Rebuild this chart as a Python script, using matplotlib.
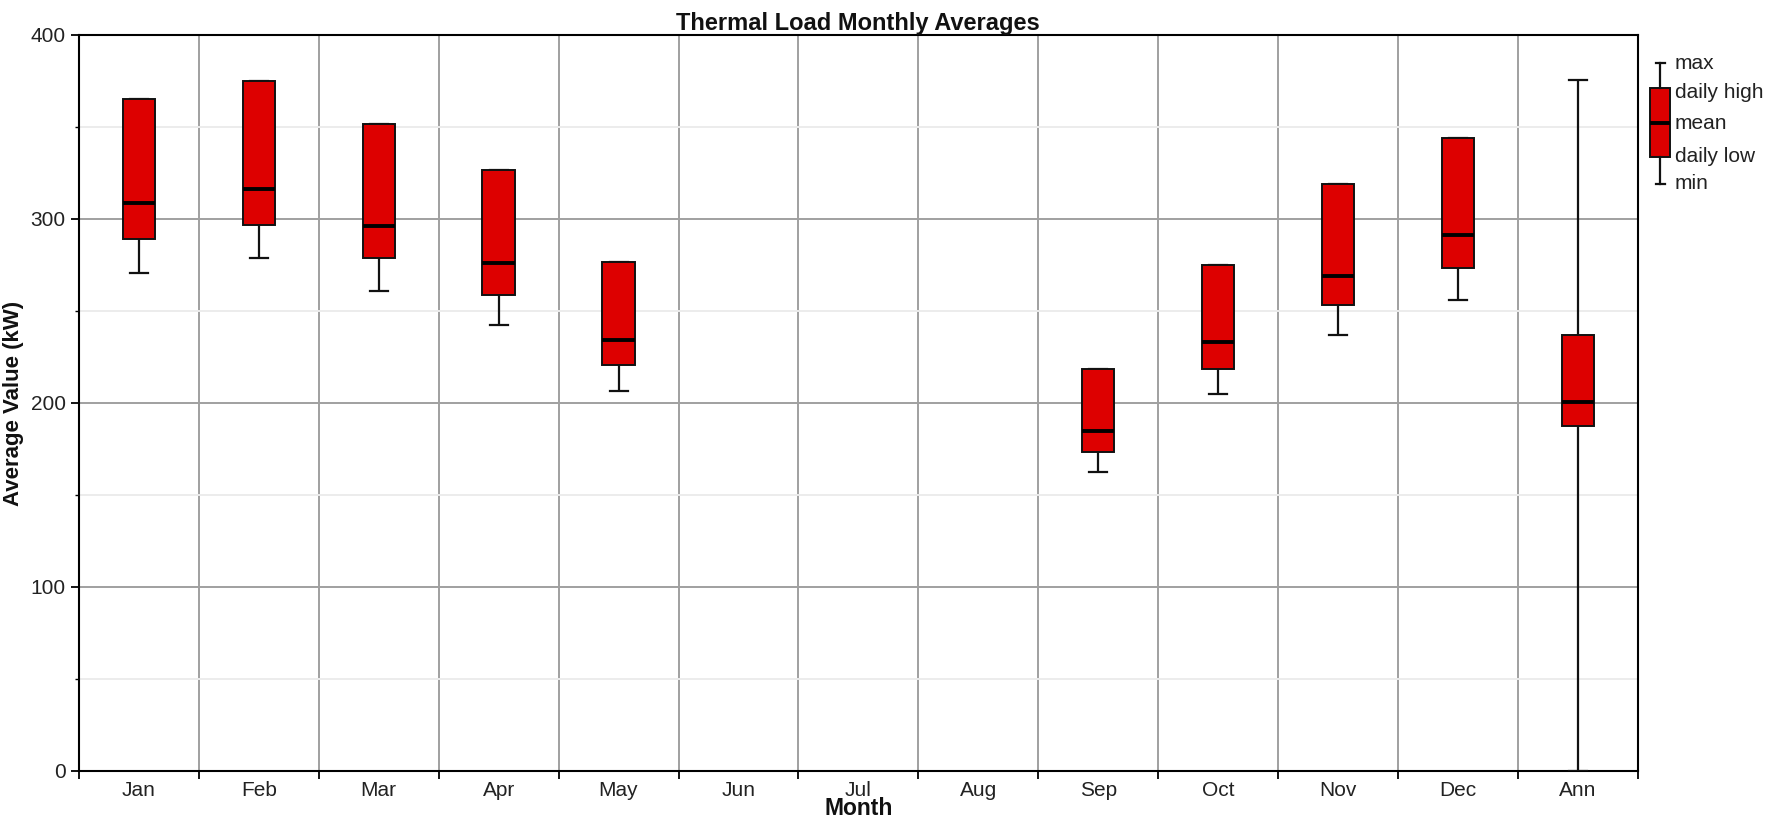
import numpy as np
import matplotlib
matplotlib.use("Agg")
import matplotlib.pyplot as plt
from matplotlib.patches import Rectangle
from matplotlib.ticker import MultipleLocator, FixedLocator

plt.rcParams['font.family'] = ['Liberation Sans', 'DejaVu Sans']

months = ['Jan', 'Feb', 'Mar', 'Apr', 'May', 'Jun', 'Jul', 'Aug', 'Sep', 'Oct', 'Nov', 'Dec', 'Ann']
nan = np.nan
max_vals = [365.1, 375.0, 351.8, 326.6, 276.9, nan, nan, nan, 218.3, 275.2, 319.0, 344.2, 375.3]
daily_high = [365.1, 375.0, 351.8, 326.6, 276.9, nan, nan, nan, 218.3, 275.2, 319.0, 344.2, 237.1]
mean_vals = [308.7, 316.1, 296.4, 275.9, 234.2, nan, nan, nan, 184.8, 233.2, 269.2, 291.1, 200.3]
daily_low = [289.3, 296.9, 278.6, 258.5, 220.7, nan, nan, nan, 173.5, 218.3, 253.3, 273.2, 187.4]
min_vals = [270.8, 278.6, 261.0, 242.2, 206.5, nan, nan, nan, 162.5, 205.1, 237.0, 255.9, 0.0]

RED = '#dd0000'
W = 17.83
H = 8.23
fig = plt.figure(figsize=(W, H), dpi=100)
ax = fig.add_axes([79 / 1783, 1 - 771 / 823, (1637.7 - 79) / 1783, (771 - 35) / 823])

n = len(months)
x = np.arange(n)
bw = 0.27
cw = 0.15
for i in range(n):
    if np.isnan(mean_vals[i]):
        continue
    lo, hi, mn, mx, me = daily_low[i], daily_high[i], min_vals[i], max_vals[i], mean_vals[i]
    ax.plot([x[i], x[i]], [mn, lo], color='#111111', lw=1.6, zorder=3, solid_capstyle='butt')
    ax.plot([x[i], x[i]], [hi, mx], color='#111111', lw=1.6, zorder=3, solid_capstyle='butt')
    ax.plot([x[i] - cw / 2, x[i] + cw / 2], [mn, mn], color='#111111', lw=1.6, zorder=3)
    ax.plot([x[i] - cw / 2, x[i] + cw / 2], [mx, mx], color='#111111', lw=1.6, zorder=3)
    ax.add_patch(Rectangle((x[i] - bw / 2, lo), bw, hi - lo, facecolor=RED,
                           edgecolor='#111111', lw=1.4, zorder=4))
    ax.plot([x[i] - bw / 2, x[i] + bw / 2], [me, me], color='black', lw=2.8, zorder=5,
            solid_capstyle='butt')

ax.set_xlim(-0.5, n - 0.5)
ax.set_ylim(0, 400)
ax.set_xticks(x)
ax.set_xticklabels(months, fontsize=15, color='#222222')
ax.xaxis.set_minor_locator(FixedLocator(np.arange(-0.5, n, 1.0)))
ax.tick_params(axis='x', which='major', length=0, pad=7)
ax.tick_params(axis='x', which='minor', length=6, width=1.3, direction='out', color='black')
ax.yaxis.set_major_locator(MultipleLocator(100))
ax.yaxis.set_minor_locator(MultipleLocator(50))
ax.tick_params(axis='y', which='major', length=6, width=1.3, labelsize=15, labelcolor='#222222')
ax.tick_params(axis='y', which='minor', length=3, width=1.0)

ax.grid(True, axis='y', which='major', color='#a0a0a0', lw=1.4, zorder=1)
ax.grid(True, axis='y', which='minor', color='#ececec', lw=1.4, zorder=0)
ax.grid(True, axis='x', which='minor', color='#a0a0a0', lw=1.4, zorder=1)
ax.set_axisbelow(True)
for s in ax.spines.values():
    s.set_color('black')
    s.set_linewidth(1.5)

ax.set_title('Thermal Load Monthly Averages', fontsize=17, fontweight='bold', pad=3, color='#111111')
ax.set_xlabel('Month', fontsize=16.5, fontweight='bold', labelpad=-2, color='#111111')
ax.set_ylabel('Average Value (kW)', fontsize=16, fontweight='bold', labelpad=5, color='#111111')

# legend drawn in pixel coordinates
lg = fig.add_axes([0, 0, 1, 1], facecolor='none')
lg.set_xlim(0, 1783)
lg.set_ylim(823, 0)
lg.axis('off')
cx = 1660.5
lg.plot([cx, cx], [63, 88], color='#111111', lw=1.6)
lg.plot([cx, cx], [157, 184], color='#111111', lw=1.6)
lg.plot([cx - 4.5, cx + 4.5], [63, 63], color='#111111', lw=1.6)
lg.plot([cx - 4.5, cx + 4.5], [184, 184], color='#111111', lw=1.6)
lg.add_patch(Rectangle((1650.5, 88), 20, 69, facecolor=RED, edgecolor='#111111', lw=1.4))
lg.plot([1650.5, 1670.5], [122.5, 122.5], color='black', lw=2.8, solid_capstyle='butt')
for ty, t in zip([63, 92, 123, 156, 183], ['max', 'daily high', 'mean', 'daily low', 'min']):
    lg.text(1675, ty, t, fontsize=15, va='center', ha='left', color='#222222')

fig.savefig('out.png', dpi=100)
